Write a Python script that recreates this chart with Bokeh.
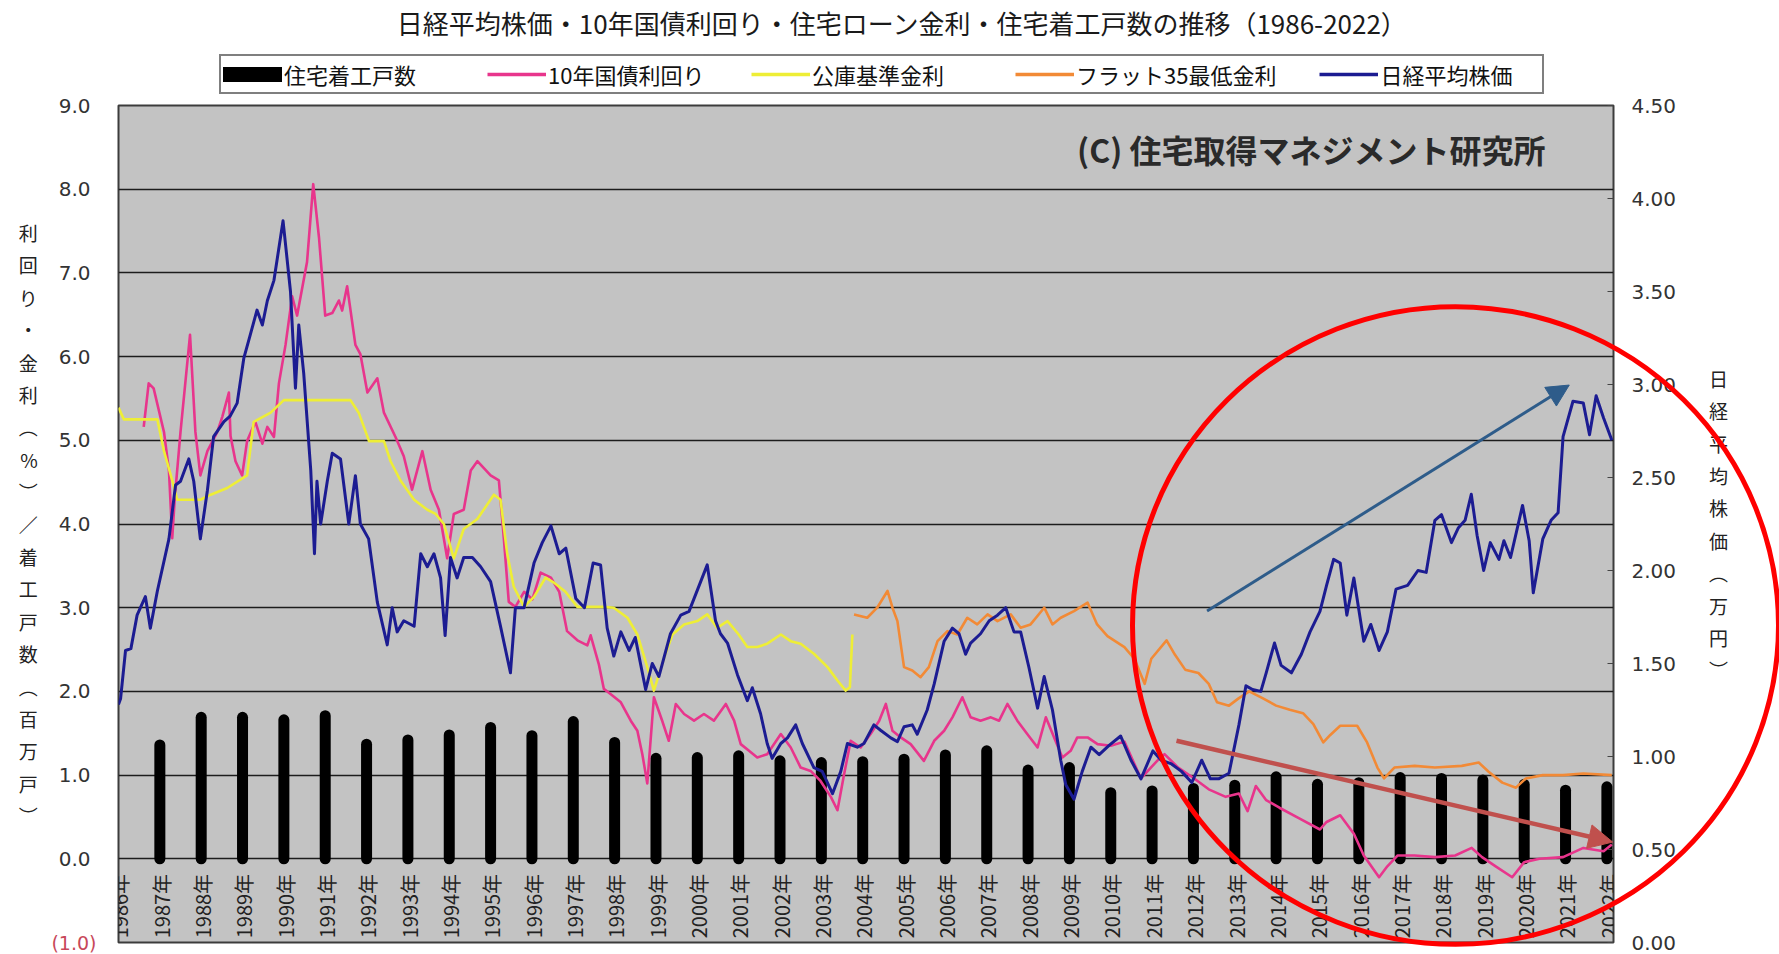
import math
from bokeh.plotting import figure
from bokeh.models import (Range1d, LinearAxis, FixedTicker, NumeralTickFormatter, Legend,
                          LegendItem, Label, LabelSet, ColumnDataSource, Arrow, NormalHead)
from bokeh.core.properties import value
from bokeh.embed import file_html
from bokeh.resources import INLINE

# ---------------- texts ----------------
TITLE = "日経平均株価・10年国債利回り・住宅ローン金利・住宅着工戸数の推移（1986-2022）"
COPYRIGHT = "(C) 住宅取得マネジメント研究所"
SERIES_NAMES = ["住宅着工戸数", "10年国債利回り", "公庫基準金利", "フラット35最低金利", "日経平均株価"]
LEFT_AXIS_TITLE = "利回り・金利（%）／着工戸数（百万戸）"
RIGHT_AXIS_TITLE = "日経平均株価（万円）"
LEFT_NEG_LABEL = "(1.0)"

year_ticks = list(range(1986, 2023))
year_labels = [f"{y}年" for y in year_ticks]
left_ticks = [0, 1, 2, 3, 4, 5, 6, 7, 8, 9]
right_ticks = [0.0, 0.5, 1.0, 1.5, 2.0, 2.5, 3.0, 3.5, 4.0, 4.5]

# ---------------- data ----------------
# housing starts (million units) for 1986..2021, drawn at the end of each year
housing_years = list(range(1986, 2022))
housing_starts = [1.36, 1.69, 1.69, 1.66, 1.71, 1.37, 1.42, 1.48, 1.57, 1.47, 1.64, 1.39,
                  1.20, 1.21, 1.23, 1.17, 1.15, 1.16, 1.19, 1.24, 1.29, 1.06, 1.09, 0.79,
                  0.81, 0.84, 0.88, 0.98, 0.89, 0.91, 0.97, 0.96, 0.94, 0.89, 0.82, 0.86]

# Nikkei average (10,000 yen), (year, value)
nikkei = [(1986.00, 1.28), (1986.05, 1.31), (1986.17, 1.57), (1986.30, 1.58), (1986.45, 1.76),
          (1986.65, 1.86), (1986.77, 1.69), (1986.94, 1.89), (1987.22, 2.17), (1987.38, 2.46),
          (1987.50, 2.48), (1987.70, 2.60), (1987.82, 2.48), (1987.98, 2.17), (1988.15, 2.43),
          (1988.30, 2.72), (1988.55, 2.80), (1988.70, 2.83), (1988.87, 2.90), (1989.03, 3.14),
          (1989.19, 3.27), (1989.35, 3.40), (1989.48, 3.32), (1989.60, 3.45), (1989.76, 3.56),
          (1989.98, 3.88), (1990.16, 3.50), (1990.28, 2.98), (1990.36, 3.32), (1990.48, 3.06),
          (1990.65, 2.54), (1990.74, 2.09), (1990.80, 2.48), (1990.89, 2.25), (1991.05, 2.48),
          (1991.17, 2.63), (1991.37, 2.60), (1991.57, 2.25), (1991.73, 2.51), (1991.85, 2.25),
          (1992.05, 2.17), (1992.26, 1.83), (1992.50, 1.60), (1992.62, 1.80), (1992.74, 1.67),
          (1992.90, 1.73), (1993.15, 1.70), (1993.31, 2.09), (1993.47, 2.02), (1993.63, 2.09),
          (1993.79, 1.96), (1993.90, 1.65), (1994.03, 2.07), (1994.19, 1.96), (1994.35, 2.07),
          (1994.56, 2.07), (1994.76, 2.02), (1995.00, 1.94), (1995.24, 1.70), (1995.48, 1.45),
          (1995.60, 1.80), (1995.81, 1.80), (1996.05, 2.04), (1996.25, 2.15), (1996.46, 2.24),
          (1996.66, 2.09), (1996.82, 2.12), (1997.06, 1.85), (1997.27, 1.80), (1997.48, 2.04),
          (1997.66, 2.03), (1997.82, 1.69), (1997.98, 1.54), (1998.15, 1.67), (1998.35, 1.57),
          (1998.50, 1.64), (1998.75, 1.36), (1998.91, 1.50), (1999.07, 1.43), (1999.35, 1.66),
          (1999.60, 1.76), (1999.80, 1.78), (2000.24, 2.03), (2000.44, 1.73), (2000.56, 1.66),
          (2000.73, 1.61), (2000.97, 1.44), (2001.21, 1.30), (2001.33, 1.37), (2001.53, 1.23),
          (2001.69, 1.07), (2001.81, 0.99), (2002.02, 1.07), (2002.18, 1.10), (2002.38, 1.17),
          (2002.54, 1.07), (2002.82, 0.94), (2003.02, 0.92), (2003.27, 0.80), (2003.47, 0.92),
          (2003.63, 1.07), (2003.87, 1.05), (2004.03, 1.07), (2004.27, 1.17), (2004.44, 1.14),
          (2004.68, 1.10), (2004.84, 1.08), (2005.00, 1.16), (2005.20, 1.17), (2005.32, 1.12),
          (2005.56, 1.25), (2005.73, 1.39), (2005.97, 1.62), (2006.17, 1.69), (2006.33, 1.66),
          (2006.49, 1.55), (2006.61, 1.61), (2006.85, 1.66), (2007.06, 1.73), (2007.26, 1.76),
          (2007.46, 1.80), (2007.66, 1.67), (2007.82, 1.67), (2008.02, 1.48), (2008.23, 1.26),
          (2008.39, 1.43), (2008.59, 1.25), (2008.79, 0.98), (2008.91, 0.85), (2009.11, 0.77),
          (2009.31, 0.92), (2009.52, 1.05), (2009.72, 1.01), (2009.96, 1.06), (2010.24, 1.11),
          (2010.49, 0.98), (2010.73, 0.88), (2011.02, 1.03), (2011.22, 0.98), (2011.47, 0.96),
          (2011.71, 0.92), (2011.96, 0.86), (2012.20, 0.98), (2012.41, 0.88), (2012.61, 0.88),
          (2012.86, 0.91), (2013.10, 1.17), (2013.27, 1.38), (2013.43, 1.36), (2013.63, 1.35),
          (2013.76, 1.45), (2013.96, 1.61), (2014.12, 1.49), (2014.37, 1.45), (2014.61, 1.55),
          (2014.82, 1.67), (2015.06, 1.78), (2015.22, 1.92), (2015.39, 2.06), (2015.55, 2.04),
          (2015.71, 1.76), (2015.88, 1.96), (2016.12, 1.62), (2016.29, 1.71), (2016.49, 1.57),
          (2016.69, 1.67), (2016.90, 1.90), (2017.18, 1.92), (2017.43, 2.00), (2017.63, 1.99),
          (2017.84, 2.27), (2018.00, 2.30), (2018.24, 2.15), (2018.41, 2.23), (2018.57, 2.27),
          (2018.72, 2.41), (2018.86, 2.19), (2019.02, 2.00), (2019.18, 2.15), (2019.39, 2.06),
          (2019.51, 2.16), (2019.67, 2.07), (2019.96, 2.35), (2020.12, 2.16), (2020.22, 1.88),
          (2020.45, 2.17), (2020.65, 2.27), (2020.82, 2.31), (2020.94, 2.72), (2021.18, 2.91),
          (2021.43, 2.90), (2021.58, 2.73), (2021.74, 2.94), (2021.92, 2.82), (2022.12, 2.70)]

# 10-year JGB yield (%)
jgb10 = [(1986.61, 5.16), (1986.73, 5.68), (1986.85, 5.62), (1987.10, 5.10), (1987.22, 4.64),
         (1987.30, 3.83), (1987.36, 4.30), (1987.50, 5.10), (1987.73, 6.26), (1987.86, 5.10),
         (1987.98, 4.58), (1988.15, 4.87), (1988.39, 5.10), (1988.51, 5.28), (1988.67, 5.57),
         (1988.71, 5.05), (1988.83, 4.75), (1988.99, 4.58), (1989.11, 4.99), (1989.31, 5.22),
         (1989.48, 4.96), (1989.60, 5.16), (1989.76, 5.04), (1989.88, 5.68), (1990.04, 6.14),
         (1990.20, 6.72), (1990.32, 6.49), (1990.56, 7.13), (1990.71, 8.06), (1990.85, 7.42),
         (1991.00, 6.49), (1991.17, 6.52), (1991.33, 6.67), (1991.41, 6.55), (1991.53, 6.84),
         (1991.73, 6.14), (1991.85, 6.03), (1992.02, 5.57), (1992.26, 5.74), (1992.42, 5.33),
         (1992.70, 5.04), (1992.90, 4.81), (1993.10, 4.41), (1993.35, 4.87), (1993.55, 4.41),
         (1993.75, 4.17), (1993.95, 3.59), (1994.11, 4.12), (1994.35, 4.17), (1994.52, 4.64),
         (1994.68, 4.75), (1995.00, 4.58), (1995.20, 4.52), (1995.32, 3.83), (1995.44, 3.07),
         (1995.60, 3.01), (1995.81, 3.19), (1996.01, 3.10), (1996.21, 3.42), (1996.46, 3.36),
         (1996.66, 3.19), (1996.85, 2.72), (1997.10, 2.61), (1997.34, 2.55), (1997.42, 2.67),
         (1997.62, 2.32), (1997.74, 2.03), (1997.90, 1.97), (1998.15, 1.87), (1998.39, 1.65),
         (1998.55, 1.53), (1998.67, 1.25), (1998.79, 0.90), (1998.95, 1.93), (1999.15, 1.65),
         (1999.31, 1.41), (1999.48, 1.85), (1999.68, 1.73), (1999.92, 1.65), (2000.16, 1.73),
         (2000.40, 1.65), (2000.69, 1.85), (2000.89, 1.65), (2001.05, 1.37), (2001.25, 1.29),
         (2001.45, 1.21), (2001.69, 1.25), (2002.02, 1.49), (2002.26, 1.33), (2002.50, 1.09),
         (2002.74, 1.05), (2002.98, 0.93), (2003.23, 0.74), (2003.39, 0.58), (2003.55, 1.01),
         (2003.71, 1.41), (2003.95, 1.33), (2004.19, 1.49), (2004.40, 1.65), (2004.56, 1.85),
         (2004.72, 1.53), (2004.92, 1.45), (2005.16, 1.37), (2005.48, 1.17), (2005.73, 1.41),
         (2005.97, 1.53), (2006.17, 1.69), (2006.41, 1.93), (2006.61, 1.69), (2006.85, 1.65),
         (2007.10, 1.69), (2007.30, 1.65), (2007.50, 1.85), (2007.74, 1.65), (2007.98, 1.49),
         (2008.23, 1.33), (2008.43, 1.69), (2008.63, 1.45), (2008.83, 1.21), (2009.03, 1.29),
         (2009.19, 1.45), (2009.44, 1.45), (2009.68, 1.37), (2010.00, 1.35), (2010.33, 1.40),
         (2010.73, 0.96), (2011.14, 1.18), (2011.30, 1.25), (2011.63, 1.09), (2011.96, 0.98),
         (2012.37, 0.83), (2012.78, 0.74), (2013.10, 0.78), (2013.31, 0.57), (2013.51, 0.87),
         (2013.76, 0.70), (2014.08, 0.61), (2014.57, 0.48), (2015.06, 0.35), (2015.22, 0.44),
         (2015.55, 0.52), (2015.88, 0.30), (2016.12, 0.04), (2016.49, -0.22), (2016.69, -0.09),
         (2016.94, 0.04), (2017.35, 0.04), (2017.84, 0.02), (2018.33, 0.04), (2018.73, 0.13),
         (2018.98, 0.02), (2019.31, -0.09), (2019.71, -0.22), (2020.00, -0.04), (2020.37, 0.00),
         (2020.94, 0.02), (2021.43, 0.13), (2021.92, 0.09), (2022.12, 0.17)]

# Housing Loan Corporation standard rate (%)
koko_rate = [(1986.00, 5.39), (1986.13, 5.25), (1986.94, 5.25), (1987.10, 4.87), (1987.30, 4.52),
             (1987.42, 4.29), (1987.98, 4.29), (1988.23, 4.35), (1988.63, 4.43), (1989.11, 4.58),
             (1989.27, 5.22), (1989.68, 5.33), (1990.00, 5.48), (1991.61, 5.48), (1991.81, 5.33),
             (1992.06, 4.99), (1992.42, 4.99), (1992.58, 4.75), (1992.82, 4.52), (1993.15, 4.29),
             (1993.47, 4.17), (1993.67, 4.12), (1993.87, 4.00), (1994.11, 3.59), (1994.35, 3.94),
             (1994.68, 4.06), (1995.08, 4.35), (1995.24, 4.29), (1995.40, 3.65), (1995.56, 3.25),
             (1995.81, 3.01), (1996.05, 3.13), (1996.33, 3.36), (1996.53, 3.30), (1996.81, 3.19),
             (1997.10, 3.01), (1997.74, 3.01), (1997.98, 3.00), (1998.31, 2.88), (1998.55, 2.68),
             (1998.79, 2.29), (1998.95, 2.01), (1999.23, 2.45), (1999.40, 2.68), (1999.68, 2.80),
             (2000.00, 2.84), (2000.24, 2.92), (2000.48, 2.76), (2000.73, 2.84), (2001.00, 2.68),
             (2001.21, 2.53), (2001.45, 2.53), (2001.69, 2.57), (2002.02, 2.68), (2002.26, 2.60),
             (2002.50, 2.57), (2002.82, 2.45), (2003.15, 2.29), (2003.39, 2.13), (2003.59, 2.01),
             (2003.69, 2.05), (2003.75, 2.68)]

# Flat 35 lowest rate (%)
flat35 = [(2003.79, 2.92), (2004.11, 2.88), (2004.35, 3.00), (2004.60, 3.20), (2004.72, 3.00),
          (2004.84, 2.84), (2005.00, 2.29), (2005.20, 2.25), (2005.40, 2.17), (2005.60, 2.29),
          (2005.81, 2.60), (2006.05, 2.72), (2006.29, 2.68), (2006.53, 2.88), (2006.77, 2.80),
          (2007.02, 2.92), (2007.26, 2.84), (2007.58, 2.92), (2007.82, 2.76), (2008.06, 2.80),
          (2008.39, 3.00), (2008.59, 2.80), (2008.79, 2.88), (2009.11, 2.96), (2009.44, 3.06),
          (2009.67, 2.80), (2009.92, 2.66), (2010.33, 2.53), (2010.57, 2.39), (2010.82, 2.09),
          (2010.98, 2.39), (2011.35, 2.61), (2011.55, 2.44), (2011.80, 2.26), (2012.12, 2.22),
          (2012.37, 2.09), (2012.57, 1.87), (2012.86, 1.83), (2013.10, 1.92), (2013.35, 2.00),
          (2013.67, 1.92), (2014.00, 1.83), (2014.33, 1.78), (2014.65, 1.74), (2014.90, 1.61),
          (2015.14, 1.39), (2015.31, 1.48), (2015.55, 1.59), (2015.96, 1.59), (2016.20, 1.39),
          (2016.45, 1.09), (2016.61, 0.96), (2016.86, 1.09), (2017.35, 1.11), (2017.84, 1.09),
          (2018.49, 1.11), (2018.90, 1.15), (2019.14, 1.04), (2019.47, 0.91), (2019.80, 0.85),
          (2020.04, 0.96), (2020.45, 1.00), (2020.94, 1.00), (2021.43, 1.02), (2022.12, 1.00)]

# ---------------- geometry / style ----------------
W, H = 1779, 954
FL, FR, FT, FB = 118, 1613, 105, 942          # frame edges on the canvas (px)
X0, X1 = 1986.0, 2022.16
Y0, Y1 = -1.0, 9.0
JP = "Noto Sans CJK JP"
NUM = "DejaVu Sans"

COL_BAR = "black"
COL_JGB = "#e8358c"
COL_KOKO = "#eeee36"
COL_FLAT = "#f28a36"
COL_NK = "#1c1c92"


def xd(px):
    return X0 + (px - FL) * (X1 - X0) / (FR - FL)


def yd(py):
    return Y1 - (py - FT) * (Y1 - Y0) / (FB - FT)


def vertical(s):
    s = s.replace("（", "︵").replace("）", "︶")
    return "\n".join(list(s))


p = figure(width=W, height=H, output_backend="svg", toolbar_location=None,
           x_range=Range1d(X0, X1), y_range=Range1d(Y0, Y1),
           x_axis_location=None, y_axis_location="left",
           min_border_left=FL, min_border_right=W - FR,
           min_border_top=FT, min_border_bottom=H - FB)
p.extra_y_ranges = {"nk": Range1d(0, 4.5)}
p.background_fill_color = "#c3c3c3"
p.border_fill_color = "white"
p.outline_line_color = "#3c3c3c"
p.outline_line_width = 2

p.xgrid.visible = False
p.ygrid.ticker = FixedTicker(ticks=left_ticks[:-1])
p.ygrid.grid_line_color = "#1c1c1c"
p.ygrid.grid_line_width = 1.6

ly = p.left[0]
ly.ticker = FixedTicker(ticks=left_ticks)
ly.formatter = NumeralTickFormatter(format="0.0")
ly.major_tick_line_color = None
ly.minor_tick_line_color = None
ly.axis_line_color = None
ly.major_label_standoff = 22
ly.major_label_text_font = NUM
ly.major_label_text_font_size = "20px"
ly.major_label_text_color = "#333333"
ly.axis_label = vertical(LEFT_AXIS_TITLE)
ly.axis_label_orientation = "horizontal"
ly.axis_label_text_font = JP
ly.axis_label_text_font_size = "19px"
ly.axis_label_text_font_style = "normal"
ly.axis_label_text_color = "#222222"
ly.axis_label_text_line_height = 1.2
ly.axis_label_standoff = 18

ry = LinearAxis(y_range_name="nk", ticker=FixedTicker(ticks=right_ticks),
                formatter=NumeralTickFormatter(format="0.00"))
ry.major_tick_in = 6
ry.major_tick_out = 0
ry.major_tick_line_color = "#444444"
ry.minor_tick_line_color = None
ry.axis_line_color = None
ry.major_label_standoff = 18
ry.major_label_text_font = NUM
ry.major_label_text_font_size = "20px"
ry.major_label_text_color = "#333333"
ry.axis_label = vertical(RIGHT_AXIS_TITLE)
ry.axis_label_orientation = "horizontal"
ry.axis_label_text_font = JP
ry.axis_label_text_font_size = "19px"
ry.axis_label_text_font_style = "normal"
ry.axis_label_text_color = "#222222"
ry.axis_label_text_line_height = 1.2
ry.axis_label_standoff = 30
p.add_layout(ry, "right")

# ---------------- glyphs ----------------
bar_src = ColumnDataSource(dict(x=[y + 1 for y in housing_years], v=housing_starts))
p.segment(x0="x", y0=0, x1="x", y1="v", source=bar_src,
          line_color=COL_BAR, line_width=11, line_cap="round")


def series(pairs):
    return ColumnDataSource(dict(t=[a for a, b in pairs], v=[b for a, b in pairs]))


p.line("t", "v", source=series(jgb10), line_color=COL_JGB, line_width=2.6, line_join="round")
p.line("t", "v", source=series(koko_rate), line_color=COL_KOKO, line_width=2.6, line_join="round")
p.line("t", "v", source=series(flat35), line_color=COL_FLAT, line_width=2.6, line_join="round")
p.line("t", "v", source=series(nikkei), y_range_name="nk", line_color=COL_NK,
       line_width=3, line_join="round")

# year labels inside the lower band of the plot
ysrc = ColumnDataSource(dict(x=[y + 0.03 for y in year_ticks], y=[-0.18] * len(year_ticks),
                             t=year_labels))
p.add_layout(LabelSet(x="x", y="y", text="t", source=ysrc, angle=math.pi / 2,
                      text_align="right", text_baseline="middle",
                      text_font=value(JP), text_font_size="20px", text_color="#222222"))

# copyright text
p.add_layout(Label(x=xd(1545), y=yd(148), text=COPYRIGHT, text_align="right",
                   text_baseline="middle", text_font=JP, text_font_size="32px",
                   text_font_style="bold", text_color="#2a2a2a"))

# arrows
blue = "#2e5c8a"
p.add_layout(Arrow(end=NormalHead(size=22, fill_color=blue, line_color=blue),
                   x_start=2012.33, y_start=2.96, x_end=2021.09, y_end=5.66,
                   line_color=blue, line_width=3))
redc = "#c0504d"
p.add_layout(Arrow(end=NormalHead(size=24, fill_color=redc, line_color=redc),
                   x_start=2011.59, y_start=1.41, x_end=2022.14, y_end=0.2,
                   line_color=redc, line_width=4.5))

# ---------------- overlay (title, legend, circle, out-of-frame labels) ----------------
# a transparent second canvas whose data units are page pixels (y downwards)
ov = figure(width=W, height=H, output_backend="svg", toolbar_location=None,
            x_range=Range1d(0, W), y_range=Range1d(H, 0),
            x_axis_location=None, y_axis_location=None,
            min_border_left=0, min_border_right=0, min_border_top=0, min_border_bottom=0)
ov.background_fill_alpha = 0
ov.border_fill_alpha = 0
ov.outline_line_color = None
ov.grid.visible = False
ov.styles = {"position": "absolute", "top": "0px", "left": "0px"}

ov.add_layout(Label(x=902, y=22, text=TITLE, text_align="center", text_baseline="middle",
                    text_font=JP, text_font_size="26px", text_color="#1a1a1a"))
ov.add_layout(Label(x=96, y=942, text=LEFT_NEG_LABEL, text_align="right",
                    text_baseline="middle", text_font=NUM, text_font_size="19px",
                    text_color="#c8485a"))

# red circle
ov.ellipse(x=[1455], y=[625], width=[646], height=[638], fill_color=None,
           line_color="#ff0000", line_width=5)

# legend keys: off-canvas renderers carrying the same styles as the series
OFF = [-100]
k_bar = ov.segment(x0=OFF, y0=OFF, x1=OFF, y1=OFF, line_color=COL_BAR, line_width=15,
                   line_cap="round")
k_jgb = ov.line(x=OFF, y=OFF, line_color=COL_JGB, line_width=3.5)
k_koko = ov.line(x=OFF, y=OFF, line_color=COL_KOKO, line_width=3.5)
k_flat = ov.line(x=OFF, y=OFF, line_color=COL_FLAT, line_width=3.5)
k_nk = ov.line(x=OFF, y=OFF, line_color=COL_NK, line_width=3.5)
legend = Legend(items=[LegendItem(label=SERIES_NAMES[0], renderers=[k_bar]),
                       LegendItem(label=SERIES_NAMES[1], renderers=[k_jgb]),
                       LegendItem(label=SERIES_NAMES[2], renderers=[k_koko]),
                       LegendItem(label=SERIES_NAMES[3], renderers=[k_flat]),
                       LegendItem(label=SERIES_NAMES[4], renderers=[k_nk])],
                orientation="horizontal", location=(219, H - 94),
                label_text_font=JP, label_text_font_size="22px", label_text_color="#111111",
                glyph_width=59, glyph_height=16, label_standoff=2, label_width=160,
                spacing=43, padding=2, margin=0,
                border_line_color="black", border_line_width=2,
                background_fill_color="white", background_fill_alpha=1.0)
ov.add_layout(legend)

open("out.html", "w").write(file_html([p, ov], INLINE))
